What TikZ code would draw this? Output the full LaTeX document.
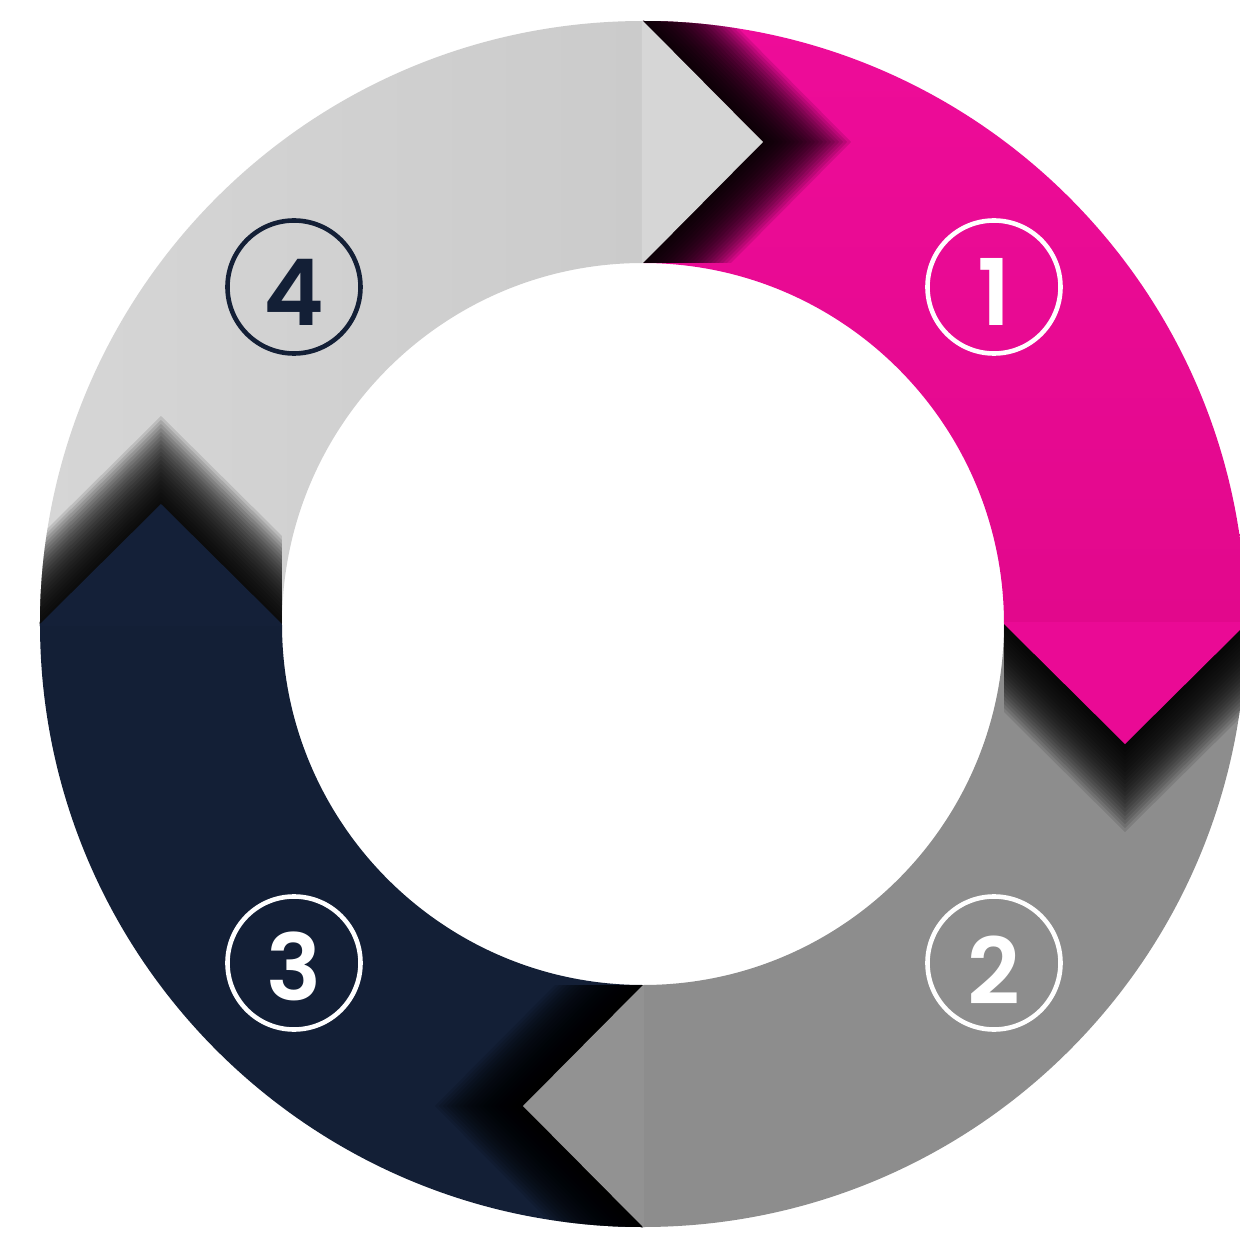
\documentclass[tikz,border=0pt]{standalone}
\usepackage{fontspec}
\setmainfont{Poppins}
\newfontfamily\numfont{Poppins}[UprightFont=* SemiBold]
\usetikzlibrary{calc}
\definecolor{pinkA}{HTML}{EE0C99}
\definecolor{pinkB}{HTML}{E2088C}
\definecolor{pinkT}{HTML}{EA0A95}
\definecolor{grayM}{HTML}{8D8D8D}
\definecolor{grayT}{HTML}{929292}
\definecolor{navy}{HTML}{131F36}
\definecolor{navyT}{HTML}{142038}
\definecolor{grayLa}{HTML}{D6D6D6}
\definecolor{grayLb}{HTML}{CBCBCB}
\definecolor{grayLT}{HTML}{D6D6D6}
\tikzset{
  numring/.style={circle,line width=2.3pt,minimum size=66.5pt,inner sep=0pt},
  numtxt/.style={anchor=base,inner sep=0pt,font=\fontsize{46}{46}\numfont},
  shadowpiece/.style={fill=black,opacity=0.11}
}
\begin{document}
\begin{tikzpicture}[x=0.5pt,y=0.5pt]
\useasboundingbox (-643,-619) rectangle (597,624);
\clip (-643,-619) rectangle (597,624);
\fill[white] (-643,-619) rectangle (597,624);
% sectors
\shade[top color=pinkA,bottom color=pinkB] (90:603) arc[start angle=90,end angle=0,radius=603] -- (0:361) arc[start angle=0,end angle=90,radius=361] -- cycle;
\fill[grayM] (0:603) arc[start angle=0,end angle=-90,radius=603] -- (-90:361) arc[start angle=-90,end angle=0,radius=361] -- cycle;
\fill[navy] (-90:603) arc[start angle=-90,end angle=-180,radius=603] -- (180:361) arc[start angle=180,end angle=270,radius=361] -- cycle;
\shade[left color=grayLa,right color=grayLb] (180:603) arc[start angle=180,end angle=90,radius=603] -- (90:361) arc[start angle=90,end angle=180,radius=361] -- cycle;
% shadows of tips
\begin{scope}
\clip (0:603) arc[start angle=0,end angle=-90,radius=603] -- (-90:361) arc[start angle=-90,end angle=0,radius=361] -- cycle;
\foreach \d in {4,8,...,88}
  \fill[shadowpiece] (361,{200-\d}) -- (361,{-\d}) -- (482,{-120-\d}) -- (603,{-\d}) -- (603,{200-\d}) -- cycle;
\end{scope}
\begin{scope}
\clip (90:603) arc[start angle=90,end angle=0,radius=603] -- (0:361) arc[start angle=0,end angle=90,radius=361] -- cycle;
\foreach \d in {4,8,...,88}
  \fill[shadowpiece] ({-200+\d},361) -- ({\d},361) -- ({120+\d},482) -- ({\d},603) -- ({-200+\d},603) -- cycle;
\end{scope}
\begin{scope}
\clip (-90:603) arc[start angle=-90,end angle=-180,radius=603] -- (180:361) arc[start angle=180,end angle=270,radius=361] -- cycle;
\foreach \d in {4,8,...,88}
  \fill[shadowpiece] ({200-\d},-361) -- ({-\d},-361) -- ({-120-\d},-482) -- ({-\d},-603) -- ({200-\d},-603) -- cycle;
\end{scope}
\begin{scope}
\clip (180:603) arc[start angle=180,end angle=90,radius=603] -- (90:361) arc[start angle=90,end angle=180,radius=361] -- cycle;
\foreach \d in {4,8,...,88}
  \fill[shadowpiece] (-361,{-200+\d}) -- (-361,{\d}) -- (-482,{120+\d}) -- (-603,{\d}) -- (-603,{-200+\d}) -- cycle;
\end{scope}
% tips
\fill[pinkT] (361,2) -- (361,0) -- (482,-120) -- (603,0) -- (603,2) -- cycle;
\fill[grayLT] (-1,361) -- (0,361) -- (120,482) -- (0,603) -- (-1,603) -- cycle;
\fill[grayT] (1,-361) -- (0,-361) -- (-120,-482) -- (0,-603) -- (1,-603) -- cycle;
\fill[navyT] (-361,-2) -- (-361,0) -- (-482,120) -- (-603,0) -- (-603,-2) -- cycle;
% numbers
\node[numring,draw=white] (c1) at (351,337) {};
\node[numtxt,text=white] (n1) at (351,298) {1};
\node[numring,draw=white] (c2) at (351,-339) {};
\node[numtxt,text=white] (n2) at (351,-380) {2};
\node[numring,draw=white] (c3) at (-349,-339) {};
\node[numtxt,text=white] (n3) at (-349,-376) {3};
\node[numring,draw=navy] (c4) at (-349,337) {};
\node[numtxt,text=navy] (n4) at (-349,298) {4};
\end{tikzpicture}
\end{document}
